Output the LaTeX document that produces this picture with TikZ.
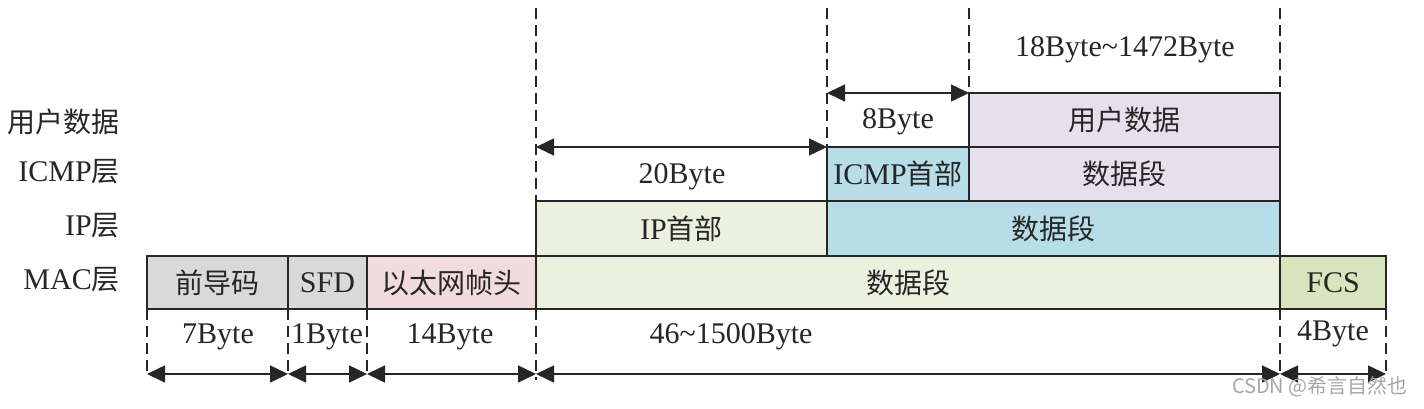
\documentclass[tikz,border=0pt]{standalone}
\usepackage{fontspec}
\setmainfont{Liberation Serif}
\newfontfamily\cjk{Noto Sans CJK SC}
\usetikzlibrary{arrows.meta}
\definecolor{cgray}{HTML}{D9D9D9}
\definecolor{cpink}{HTML}{F2DCDB}
\definecolor{cgreen}{HTML}{EBF1DE}
\definecolor{cblue}{HTML}{B7DDE8}
\definecolor{clav}{HTML}{E6E0EC}
\definecolor{cfcs}{HTML}{D7E4BD}
\definecolor{cink}{HTML}{262626}
\begin{document}
\begin{tikzpicture}[x=1pt,y=-1pt,
  seg/.style={draw=cink, line width=1.5pt, inner sep=0pt, outer sep=0pt,
    font=\fontsize{30}{32}\selectfont, text=cink},
  guide/.style={draw=cink, line width=1.3pt, dash pattern=on 11pt off 6pt},
  dim/.style={draw=cink, line width=1.5pt,
    {Triangle[length=18pt,width=17pt]}-{Triangle[length=18pt,width=17pt]}},
  lbl/.style={font=\fontsize{30}{32}\selectfont, text=cink, inner sep=0pt},
  wm/.style={font=\cjk\fontsize{20}{22}\selectfont, text=black!35, inner sep=0pt},
]
\useasboundingbox[fill=white] (0,0) rectangle (1424,408);

% MAC row
\node[seg, fill=cgray, minimum width=141pt, minimum height=53pt] (pre) at (217.5,282.5) {\cjk\fontsize{28}{30}\selectfont 前导码};
\node[seg, fill=cgray, minimum width=79pt, minimum height=53pt] (sfd) at (327.5,282.5) {SFD};
\node[seg, fill=cpink, minimum width=169pt, minimum height=53pt] (eth) at (451.5,282.5) {\cjk\fontsize{28}{30}\selectfont 以太网帧头};
\node[seg, fill=cgreen, minimum width=744pt, minimum height=53pt] (macd) at (908,282.5) {\cjk\fontsize{28}{30}\selectfont 数据段};
\node[seg, fill=cfcs, minimum width=106pt, minimum height=53pt] (fcs) at (1333,282.5) {FCS};
% IP row
\node[seg, fill=cgreen, minimum width=291pt, minimum height=55pt] (iph) at (681.5,228.5) {IP{\cjk\fontsize{28}{30}\selectfont 首部}};
\node[seg, fill=cblue, minimum width=453pt, minimum height=55pt] (ipd) at (1053.5,228.5) {\cjk\fontsize{28}{30}\selectfont 数据段};
% ICMP row
\node[seg, fill=cblue, minimum width=142pt, minimum height=54pt] (icmph) at (898,174) {ICMP{\cjk\fontsize{28}{30}\selectfont 首部}};
\node[seg, fill=clav, minimum width=311pt, minimum height=54pt] (icmpd) at (1124.5,174) {\cjk\fontsize{28}{30}\selectfont 数据段};
% user row
\node[seg, fill=clav, minimum width=311pt, minimum height=54pt] (user) at (1124.5,120) {\cjk\fontsize{28}{30}\selectfont 用户数据};

% left labels
\node[lbl, anchor=east] (lu) at (120,122) {\cjk\fontsize{28}{30}\selectfont 用户数据};
\node[lbl, anchor=east] (li) at (120,172) {ICMP{\cjk\fontsize{28}{30}\selectfont 层}};
\node[lbl, anchor=east] (lp) at (120,226) {IP{\cjk\fontsize{28}{30}\selectfont 层}};
\node[lbl, anchor=east] (lm) at (120,280) {MAC{\cjk\fontsize{28}{30}\selectfont 层}};

% guide coordinates
\coordinate (t536) at (536,8);
\coordinate (t827) at (827,8);
\coordinate (t969) at (969,8);
\coordinate (t1280) at (1280,8);
\coordinate (b147) at (147,374);
\coordinate (b288) at (288,374);
\coordinate (b367) at (367,374);
\coordinate (b536) at (536,374);
\coordinate (b1280) at (1280,374);
\coordinate (b1386) at (1386,374);
\coordinate (e536) at (536,380);

% dashed guides
\draw[guide] (t536) -- (iph.north west);
\draw[guide] (macd.south west) -- (e536);
\draw[guide] (t827) -- (icmph.north west);
\draw[guide] (t969) -- (user.north west);
\draw[guide] (t1280) -- (user.north east);
\draw[guide] (pre.south west) -- (b147);
\draw[guide] (pre.south east) -- (b288);
\draw[guide] (sfd.south east) -- (b367);
\draw[guide] (fcs.south west) -- (b1280);
\draw[guide] (fcs.south east) -- (b1386);

% dimension arrows
\draw[dim] (b147) -- (b288);
\draw[dim] (b288) -- (b367);
\draw[dim] (b367) -- (b536);
\draw[dim] (b536) -- (b1280);
\draw[dim] (b1280) -- (b1386);
\draw[dim] (iph.north west |- icmph.north west) -- (icmph.north west);
\draw[dim] (icmph.north west |- user.north west) -- (user.north west);

% dimension labels
\node[lbl] (d18) at (1125,50) {18Byte\textasciitilde1472Byte};
\node[lbl] (d8) at (898,122) {8Byte};
\node[lbl] (d20) at (682,177) {20Byte};
\node[lbl] (d7) at (218,337) {7Byte};
\node[lbl] (d1) at (327,337) {1Byte};
\node[lbl] (d14) at (450,337) {14Byte};
\node[lbl] (d46) at (731,337) {46\textasciitilde1500Byte};
\node[lbl] (d4) at (1333,334) {4Byte};

% watermark
\node[wm, anchor=east] (wmk) at (1408,387) {CSDN @希言自然也};
\end{tikzpicture}
\end{document}
